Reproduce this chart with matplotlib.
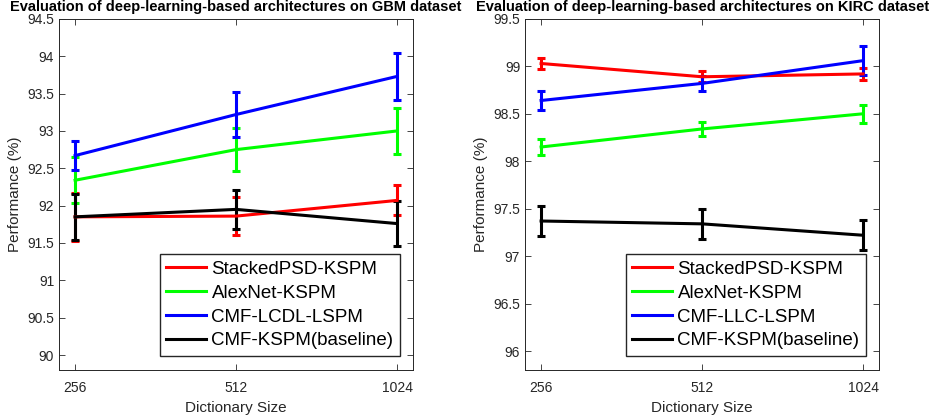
import matplotlib
matplotlib.use('Agg')
import matplotlib.pyplot as plt
from matplotlib.lines import Line2D

plt.rcParams['font.family'] = ['Liberation Sans', 'DejaVu Sans']

# Shared data
dict_sizes = ['256', '512', '1024']
series_colors = ['#ff0000', '#00ff00', '#0000ff', '#000000']

# GBM dataset
gbm_names = ["StackedPSD-KSPM", "AlexNet-KSPM", "CMF-LCDL-LSPM", "CMF-KSPM(baseline)"]
gbm_stacked = [91.85, 91.86, 92.07]
gbm_stacked_err = [0.32, 0.25, 0.20]
gbm_alexnet = [92.34, 92.75, 93.00]
gbm_alexnet_err = [0.31, 0.29, 0.31]
gbm_lcdl = [92.67, 93.22, 93.73]
gbm_lcdl_err = [0.19, 0.30, 0.31]
gbm_base = [91.85, 91.95, 91.76]
gbm_base_err = [0.31, 0.26, 0.30]

# KIRC dataset
kirc_names = ["StackedPSD-KSPM", "AlexNet-KSPM", "CMF-LLC-LSPM", "CMF-KSPM(baseline)"]
kirc_stacked = [99.03, 98.89, 98.92]
kirc_stacked_err = [0.06, 0.06, 0.065]
kirc_alexnet = [98.15, 98.34, 98.50]
kirc_alexnet_err = [0.085, 0.075, 0.095]
kirc_llc = [98.64, 98.82, 99.06]
kirc_llc_err = [0.10, 0.075, 0.15]
kirc_base = [97.37, 97.34, 97.22]
kirc_base_err = [0.16, 0.155, 0.16]

gray = '#262626'
fig = plt.figure(figsize=(9.32, 4.16), dpi=100)
ax1 = fig.add_axes([0.0633, 0.1106, 0.380, 0.844])
ax2 = fig.add_axes([0.5633, 0.1106, 0.380, 0.844])

def draw_panel(ax, names, values, errors, title, ylim, yticks):
    x = [1, 2, 3]
    for i, (name, vals, errs) in enumerate(zip(names, values, errors)):
        ax.errorbar(x, vals, yerr=errs, color=series_colors[i], linewidth=2.2,
                    elinewidth=2.2, capsize=3, capthick=2.2)
    ax.set_xlim(0.9, 3.1)
    ax.set_ylim(*ylim)
    ax.set_xticks(x)
    ax.set_xticklabels(dict_sizes)
    ax.set_yticks(yticks)
    ax.set_yticklabels(['%g' % t for t in yticks])
    ax.tick_params(direction='in', top=True, right=True, labelsize=10,
                   colors=gray, length=4, width=0.6)
    ax.tick_params(axis='x', pad=8)
    for s in ax.spines.values():
        s.set_color(gray)
        s.set_linewidth(0.7)
    ax.set_xlabel("Dictionary Size", fontsize=11, color=gray)
    ax.set_ylabel("Performance (%)", fontsize=11, color=gray, labelpad=4)
    ax.set_title(title, fontsize=10.5, fontweight='bold', pad=6)
    handles = [Line2D([], [], color=c, linewidth=2.2) for c in series_colors]
    ax.legend(handles, names, loc='lower right', bbox_to_anchor=(0.963, 0.04),
              fontsize=13.5, fancybox=False, edgecolor=gray, framealpha=1,
              handlelength=2.1, borderpad=0.35, labelspacing=0.36,
              handletextpad=0.3, borderaxespad=0)

draw_panel(ax1, gbm_names,
           [gbm_stacked, gbm_alexnet, gbm_lcdl, gbm_base],
           [gbm_stacked_err, gbm_alexnet_err, gbm_lcdl_err, gbm_base_err],
           "Evaluation of deep-learning-based architectures on GBM dataset",
           (89.8, 94.5), [90 + 0.5 * k for k in range(10)])
draw_panel(ax2, kirc_names,
           [kirc_stacked, kirc_alexnet, kirc_llc, kirc_base],
           [kirc_stacked_err, kirc_alexnet_err, kirc_llc_err, kirc_base_err],
           "Evaluation of deep-learning-based architectures on KIRC dataset",
           (95.8, 99.5), [96 + 0.5 * k for k in range(8)])

fig.savefig('out.png', dpi=100)
